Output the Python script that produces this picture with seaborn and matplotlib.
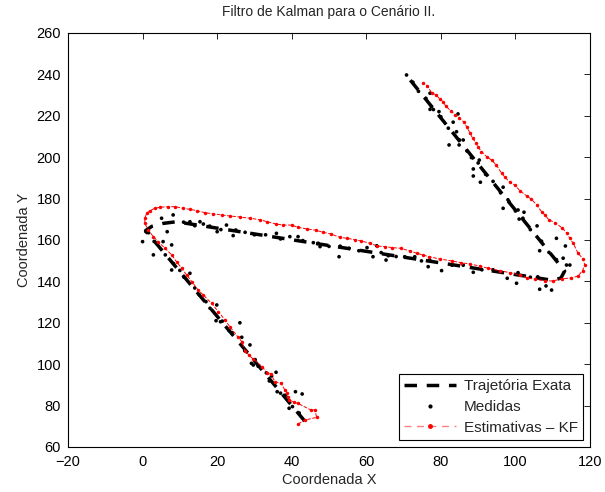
import matplotlib
matplotlib.use("Agg")
import matplotlib.pyplot as plt
from matplotlib.lines import Line2D
import seaborn as sns
import pandas as pd

# ---- Data ----
true_x = [43.5, 0.8, 2.5, 5.5, 9.0, 110.0, 112.2, 113.2, 71.0]
true_y = [72.5, 164.5, 166.6, 168.0, 168.8, 140.5, 141.6, 145.0, 239.0]

meas_x = [42.8, 41.0, 39.3, 36.1, 34.0, 34.6, 35.8, 29.2, 29.7, 28.8, 26.6, 26.1,
          20.9, 19.7, 19.9, 12.7, 7.8, 2.9, 7.8, 5.5, 0.0, 0.9, 6.6,
          42.0, 40.2, 38.3, 37.0, 33.2, 31.0, 30.2, 27.4, 24.0, 23.2, 21.4, 18.1,
          17.0, 15.2, 14.0, 11.1, 10.0, 8.3, 6.1, 4.0, 3.1, 1.6,
          5.1, 8.2, 12.7, 15.4, 16.3, 20.0, 22.5, 24.3, 27.5, 35.9, 39.5, 41.7,
          45.8, 47.1, 47.6, 52.7, 55.4, 60.2, 61.8, 62.8, 65.3, 65.9, 70.3, 73.0,
          74.8, 76.6, 80.2, 88.7, 97.8, 100.3, 100.7, 106.5, 108.2, 109.7,
          11.0, 14.0, 18.0, 21.0, 25.0, 30.0, 33.0, 37.0, 43.0, 50.0, 53.0, 58.0,
          64.0, 68.0, 77.0, 83.0, 86.0, 91.0, 94.0, 104.0, 106.0,
          112.8, 113.7, 114.6, 106.5, 111.0, 113.4, 105.8, 101.0, 100.7, 102.3,
          96.7, 98.3, 96.7, 90.6, 88.7, 88.7, 88.2, 90.3, 86.0, 82.2, 84.9, 84.2,
          83.3, 84.6, 79.5, 77.5, 77.1, 77.1, 70.8,
          111.0, 109.0, 107.0, 104.0, 102.0, 100.0, 98.0, 96.0, 94.0, 92.0, 90.0,
          87.0, 85.0, 82.0, 80.0, 78.0, 76.0, 74.0, 72.5]
meas_y = [85.6, 86.7, 78.7, 86.7, 91.9, 94.3, 96.1, 100.4, 99.6, 109.3, 113.0, 120.0,
          120.5, 121.0, 128.6, 143.9, 145.5, 152.8, 157.6, 159.2, 159.2, 164.0, 164.0,
          76.4, 79.5, 85.0, 86.0, 95.8, 99.0, 102.2, 106.5, 115.2, 116.2, 120.8, 127.0,
          130.2, 133.5, 136.8, 142.0, 145.3, 148.6, 152.8, 158.2, 159.3, 163.5,
          170.5, 172.1, 168.8, 168.8, 167.7, 164.0, 167.2, 162.1, 163.7, 163.2, 161.6, 161.6,
          158.7, 158.4, 156.8, 151.9, 156.0, 156.3, 151.9, 157.2, 150.3, 152.4, 151.9, 151.9,
          149.9, 147.1, 145.2, 144.4, 141.5, 139.1, 144.2, 136.2, 137.8, 135.8,
          168.6, 166.9, 166.7, 165.0, 164.8, 162.5, 162.5, 160.5, 159.7, 156.9, 157.0, 154.8,
          153.9, 152.0, 150.3, 147.8, 147.8, 145.6, 145.6, 142.0, 142.2,
          151.2, 147.9, 147.9, 154.8, 160.8, 157.1, 166.8, 170.1, 174.5, 173.4,
          175.3, 178.5, 185.5, 187.9, 190.9, 194.3, 199.8, 198.6, 208.3, 205.9, 205.9, 212.3,
          216.9, 220.9, 222.0, 224.4, 223.1, 230.9, 239.7,
          150.5, 154.0, 159.4, 165.0, 170.5, 174.0, 179.4, 182.8, 188.3, 191.7, 197.2,
          203.0, 208.3, 214.0, 219.5, 223.0, 228.4, 231.8, 236.2]

est_x = [41.7, 43.5, 46.7, 46.2, 45.1, 41.6, 40.7, 39.3, 38.9, 38.8, 38.2, 37.1, 35.5,
         34.4, 33.3, 32.1, 29.7, 28.5, 27.5, 26.6, 25.5, 23.4, 22.1, 20.3, 18.5, 16.3,
         14.9, 13.2, 11.8, 10.5, 9.1, 7.8, 6.0, 4.2, 2.9, 1.5, 0.6, 0.6, 1.1, 2.0, 3.3,
         4.7, 6.9, 8.7, 10.9, 12.7, 14.5, 16.7, 19.0, 21.2, 23.4, 26.1, 28.8, 31.5, 33.4,
         35.8, 37.7, 40.0, 41.7, 44.2, 46.5, 48.4, 50.5, 52.9, 54.9, 56.9, 58.7, 61.0,
         62.9, 65.1, 67.0, 69.2, 71.7, 73.5, 75.1, 76.9, 79.7, 82.9, 85.5, 87.8, 90.5,
         92.7, 95.8, 98.5, 101.2, 103.0, 105.2, 107.9, 110.1, 112.4, 115.0, 116.8, 118.0,
         118.6, 118.2, 116.8, 115.5, 114.6, 113.7, 112.6, 110.6, 109.0, 107.9, 107.0,
         105.7, 104.3, 103.0, 101.2, 99.8, 98.5, 97.2, 96.3, 94.9, 93.6, 92.3, 90.9,
         90.0, 89.4, 88.5, 87.8, 86.9, 86.2, 84.9, 83.8, 82.6, 81.3, 80.6, 79.7, 78.8,
         77.5, 76.4, 75.1]
est_y = [71.1, 73.0, 74.3, 77.9, 77.9, 81.1, 81.6, 82.7, 84.3, 86.2, 87.5, 90.8, 91.5,
         95.3, 95.9, 98.8, 102.4, 104.4, 106.5, 110.9, 113.3, 118.1, 121.4, 125.4, 129.4,
         133.4, 135.8, 139.9, 143.1, 146.3, 149.5, 152.8, 156.0, 159.2, 161.6, 164.8,
         168.1, 170.5, 172.9, 174.2, 175.3, 175.8, 176.1, 176.1, 175.3, 174.8, 174.2,
         173.2, 172.6, 172.1, 171.6, 171.1, 170.5, 169.8, 168.8, 167.7, 167.2, 167.2,
         166.1, 165.3, 164.7, 163.7, 162.9, 161.3, 160.8, 160.1, 159.5, 158.4, 157.1,
         156.8, 156.3, 156.0, 154.7, 153.6, 152.8, 151.9, 150.8, 149.9, 149.0, 148.4,
         147.4, 146.3, 145.2, 144.2, 143.1, 141.8, 141.0, 140.3, 140.2, 141.3, 141.6,
         142.6, 145.2, 147.9, 150.7, 153.6, 158.4, 160.8, 163.5, 165.7, 168.4, 169.7,
         172.1, 173.7, 176.9, 179.7, 181.3, 183.8, 186.6, 187.9, 190.3, 192.2, 196.2,
         198.6, 200.2, 202.7, 204.8, 207.0, 209.1, 211.8, 214.7, 217.0, 218.8, 220.4,
         222.5, 224.7, 226.8, 228.1, 230.0, 231.2, 234.4, 236.0]

title = "Filtro de Kalman para o Cenário II."
xlabel = "Coordenada X"
ylabel = "Coordenada Y"
legend_labels = ["Trajetória Exata", "Medidas", "Estimativas \u2013 KF"]

# ---- Style ----
sns.set_style("white")
plt.rcParams["font.family"] = ["Liberation Sans", "DejaVu Sans"]
plt.rcParams["font.size"] = 10
plt.rcParams["axes.unicode_minus"] = True

fig = plt.figure(figsize=(6.05, 4.92), dpi=100)
ax = fig.add_axes([0.1124, 0.0915, 0.8628, 0.8415])

df_true = pd.DataFrame({"x": true_x, "y": true_y})
df_meas = pd.DataFrame({"x": meas_x, "y": meas_y})
df_est = pd.DataFrame({"x": est_x, "y": est_y})

sns.lineplot(data=df_true, x="x", y="y", sort=False, estimator=None, ax=ax,
             color="black", linewidth=2.5, linestyle=(0, (3.6, 2.8)), zorder=2)
sns.scatterplot(data=df_meas, x="x", y="y", ax=ax, color="black", s=7,
                edgecolor="none", linewidth=0, zorder=3)
sns.lineplot(data=df_est, x="x", y="y", sort=False, estimator=None, ax=ax,
             color="red", linewidth=0.7, linestyle="--", marker=".",
             markersize=5, markeredgewidth=0, zorder=4)

ax.set_xlim(-20, 120)
ax.set_ylim(60, 260)
ax.set_xticks(range(-20, 121, 20))
ax.set_yticks(range(60, 261, 20))
ax.set_title(title, fontsize=10, pad=12)
ax.set_xlabel(xlabel, fontsize=10.5, labelpad=3)
ax.set_ylabel(ylabel, fontsize=10.5, labelpad=4)
ax.tick_params(direction="in", length=4, width=0.6, top=True, right=True,
               labelsize=10.5, colors="black")
ax.tick_params(axis="x", pad=6)
ax.tick_params(axis="y", pad=5)
for sp in ax.spines.values():
    sp.set_visible(True)
    sp.set_color("black")
    sp.set_linewidth(0.8)

handles = [
    Line2D([], [], color="black", linewidth=2.5, linestyle=(0, (3.6, 2.8))),
    Line2D([], [], color="black", linestyle="none", marker=".", markersize=4),
    Line2D([], [], color="#ff8080", linewidth=1.0, linestyle=(0, (5, 4)),
           marker=".", markersize=5, markerfacecolor="red", markeredgecolor="red"),
]
leg = ax.legend(handles, legend_labels, loc="lower right", fontsize=11,
                frameon=True, fancybox=False, edgecolor="black", framealpha=1,
                borderaxespad=0.45, handlelength=3.4, handletextpad=0.5,
                labelspacing=0.45, borderpad=0.35)
leg.get_frame().set_linewidth(0.8)

fig.savefig("out.png", dpi=100)
